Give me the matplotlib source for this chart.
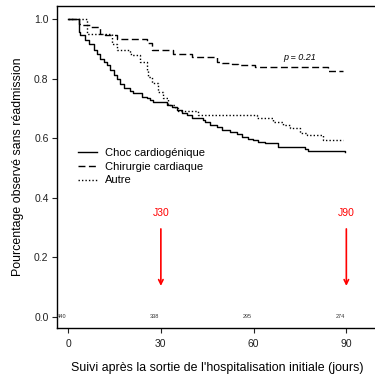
import numpy as np
import matplotlib
matplotlib.use("Agg")
import matplotlib.pyplot as plt

plt.rcParams['font.family'] = ['Liberation Sans', 'DejaVu Sans']

# courbes de survie sans réadmission (temps en jours, probabilité)
choc_t = [0, 3.6, 3.9, 5.5, 6.8, 8.4, 9.4, 10.4, 11.7, 12.6, 13.6, 14.9, 15.9, 16.8,
          18.1, 20.1, 21.0, 23.9, 25.6, 26.5, 27.5, 32.0, 33.7, 35.3, 36.9, 38.5,
          40.1, 43.7, 44.3, 46.0, 48.2, 49.8, 52.4, 54.7, 56.3, 58.3, 59.9, 61.5,
          63.8, 68.0, 76.7, 77.7, 89.6]
choc_s = [1.0, 0.956, 0.946, 0.93, 0.916, 0.896, 0.883, 0.866, 0.856, 0.846, 0.829,
          0.812, 0.799, 0.782, 0.768, 0.758, 0.752, 0.738, 0.735, 0.728, 0.721, 0.711,
          0.705, 0.695, 0.685, 0.678, 0.668, 0.661, 0.654, 0.644, 0.638, 0.628, 0.621,
          0.614, 0.604, 0.597, 0.594, 0.587, 0.584, 0.570, 0.564, 0.557, 0.554]

chir_t = [0, 3.6, 4.5, 7.1, 10.4, 12.0, 15.9, 25.6, 27.2, 34.0, 40.1, 48.2, 49.8,
          53.1, 55.0, 60.5, 84.1, 88.9]
chir_s = [1.0, 0.983, 0.98, 0.973, 0.95, 0.946, 0.933, 0.919, 0.896, 0.883, 0.872,
          0.856, 0.852, 0.849, 0.846, 0.839, 0.826, 0.826]

autre_t = [0, 6.1, 14.2, 15.9, 20.1, 20.7, 23.3, 25.6, 25.9, 27.2, 29.1, 30.7, 32.4,
           34.6, 35.6, 42.1, 61.2, 66.3, 69.6, 71.8, 75.1, 77.3, 82.5, 89.0]
autre_s = [1.0, 0.95, 0.916, 0.896, 0.883, 0.879, 0.856, 0.83, 0.805, 0.785, 0.755,
           0.735, 0.711, 0.701, 0.691, 0.678, 0.668, 0.654, 0.644, 0.634, 0.617, 0.611,
           0.594, 0.594]

groupes = ['Choc cardiogénique', 'Chirurgie cardiaque', 'Autre']

# nombre de sujets à risque
risque_t = [0, 30, 60, 90]
risque_n = ['440', '338', '295', '274']

fig = plt.figure(figsize=(3.75, 3.77), dpi=100)
ax = fig.add_axes([0.152, 0.130, 0.854, 0.854])

ax.step(choc_t, choc_s, where='post', color='black', lw=1.0, label=groupes[0])
ax.step(chir_t, chir_s, where='post', color='black', lw=1.0,
        dashes=(5, 2.5), label=groupes[1])
ax.step(autre_t, autre_s, where='post', color='black', lw=1.0,
        dashes=(1, 1.5), label=groupes[2])

ax.set_xlim(-3.6, 100)
ax.set_ylim(-0.037, 1.044)
ax.set_xticks([0, 30, 60, 90])
ax.set_yticks([0, 0.2, 0.4, 0.6, 0.8, 1.0])
ax.set_yticklabels(['0.0', '0.2', '0.4', '0.6', '0.8', '1.0'])
ax.tick_params(direction='out', length=3.6, width=0.8, labelsize=7.5, colors='#222222')
ax.tick_params(axis='y', pad=2.5)
ax.tick_params(axis='x', pad=4)
ax.spines['right'].set_visible(False)
for s in ['left', 'top', 'bottom']:
    ax.spines[s].set_linewidth(1.0)

ax.set_xlabel("Suivi après la sortie de l'hospitalisation initiale (jours)",
              fontsize=8.9, labelpad=10)
ax.set_ylabel('Pourcentage observé sans réadmission', fontsize=8.9, labelpad=7)

for t, n in zip(risque_t, risque_n):
    ax.text(t - 2, 0.0, n, fontsize=4, ha='center', va='center', color='#333333')

for t, lab in zip([30, 90], ['J30', 'J90']):
    ax.annotate('', xy=(t, 0.095), xytext=(t, 0.305),
                arrowprops=dict(arrowstyle='->', color='red', lw=1.2,
                                mutation_scale=8))
    ax.text(t, 0.35, lab, color='red', fontsize=7.5, ha='center', va='center')

ax.text(75, 0.87, 'p = 0.21', fontsize=6.5, style='italic', ha='center', va='center')

ax.legend(loc='upper left', bbox_to_anchor=(0.208, 0.607), bbox_transform=fig.transFigure,
          frameon=False, fontsize=8, handlelength=1.7, handletextpad=0.75,
          labelspacing=0.33, borderaxespad=0, borderpad=0)

fig.savefig('out.png', dpi=100)
